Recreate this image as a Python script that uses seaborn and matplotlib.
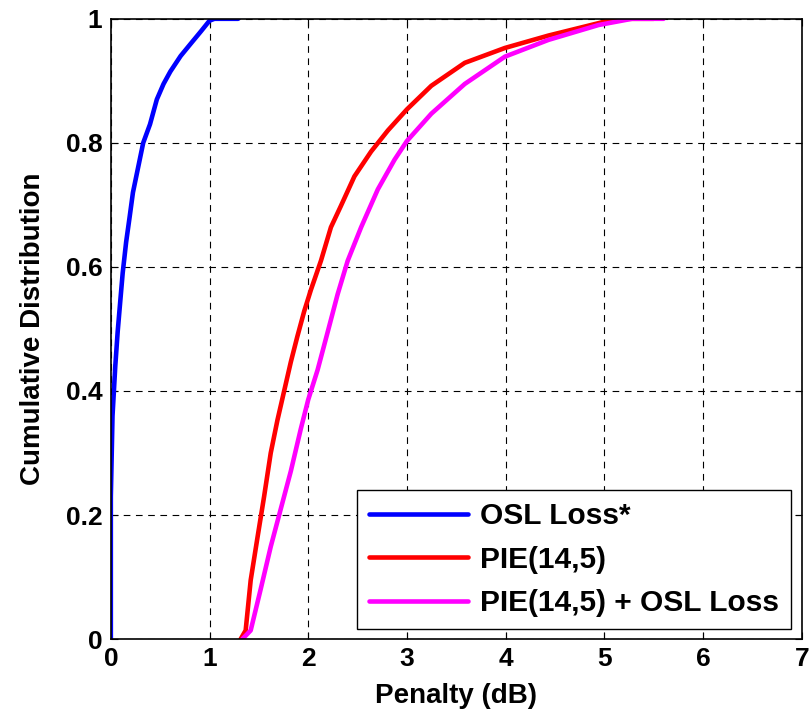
import pandas as pd
import seaborn as sns
import matplotlib.pyplot as plt

# values (x = penalty in dB, y = CDF)
osl_x = [0.0, 0.0, 0.017, 0.045, 0.069, 0.093, 0.12, 0.155, 0.19, 0.224, 0.276, 0.328,
         0.397, 0.466, 0.534, 0.603, 0.707, 0.81, 0.914, 1.0, 1.05, 1.29]
osl_y = [0.0, 0.23, 0.36, 0.44, 0.495, 0.54, 0.59, 0.64, 0.68, 0.72, 0.76, 0.80,
         0.83, 0.87, 0.895, 0.915, 0.94, 0.96, 0.98, 0.997, 1.0, 1.0]

pie_x = [1.315, 1.366, 1.417, 1.485, 1.553, 1.62, 1.688, 1.756, 1.824, 1.89, 1.96, 2.027,
         2.129, 2.23, 2.33, 2.468, 2.637, 2.807, 3.0, 3.247, 3.586, 3.993, 4.434, 4.942,
         5.11, 5.5]
pie_y = [0.0, 0.014, 0.095, 0.163, 0.23, 0.30, 0.353, 0.40, 0.447, 0.488, 0.529, 0.563,
         0.61, 0.664, 0.698, 0.746, 0.786, 0.82, 0.854, 0.892, 0.929, 0.953, 0.973, 0.993,
         1.0, 1.0]

both_x = [1.332, 1.417, 1.519, 1.62, 1.722, 1.824, 1.925, 2.0, 2.095, 2.197, 2.298, 2.4,
          2.536, 2.705, 2.875, 3.0, 3.247, 3.586, 3.993, 4.434, 4.942, 5.28, 5.6]
both_y = [0.0, 0.014, 0.081, 0.149, 0.21, 0.271, 0.339, 0.386, 0.434, 0.495, 0.556, 0.61,
          0.664, 0.725, 0.773, 0.803, 0.847, 0.895, 0.939, 0.966, 0.99, 1.0, 1.0]

labels = ["OSL Loss*", "PIE(14,5)", "PIE(14,5) + OSL Loss"]
colors = ["#0000ff", "#ff0000", "#ff00ff"]

df = pd.concat([
    pd.DataFrame({"x": osl_x, "y": osl_y, "curve": labels[0]}),
    pd.DataFrame({"x": pie_x, "y": pie_y, "curve": labels[1]}),
    pd.DataFrame({"x": both_x, "y": both_y, "curve": labels[2]}),
], ignore_index=True)

sns.set_style("ticks")
plt.rcParams["font.family"] = ["Liberation Sans", "DejaVu Sans"]
plt.rcParams["font.weight"] = "bold"
plt.rcParams["text.color"] = "black"
plt.rcParams["xtick.color"] = "black"
plt.rcParams["ytick.color"] = "black"
plt.rcParams["axes.labelcolor"] = "black"

fig = plt.figure(figsize=(8.09, 7.23), dpi=100)
ax = fig.add_axes([0.137, 0.116, 0.854, 0.858])

sns.lineplot(data=df, x="x", y="y", hue="curve", palette=dict(zip(labels, colors)),
             estimator=None, sort=False, linewidth=3.3, ax=ax)

ax.set_xlim(0, 7)
ax.set_ylim(0, 1)
ax.set_xticks(range(0, 8))
ax.set_yticks([0, 0.2, 0.4, 0.6, 0.8, 1])
ax.set_yticklabels(["0", "0.2", "0.4", "0.6", "0.8", "1"])
ax.grid(True, color="black", linestyle=(0, (6, 5)), linewidth=0.8)
ax.tick_params(direction="in", top=True, right=True, labelsize=19, length=5, width=0.8, pad=6)
for s in ax.spines.values():
    s.set_linewidth(1.2)
    s.set_color("black")
ax.set_xlabel("Penalty (dB)", fontsize=20, fontweight="bold", labelpad=8)
ax.set_ylabel("Cumulative Distribution", fontsize=20, fontweight="bold", labelpad=14)

leg = ax.legend(loc="lower right", fontsize=21.5, frameon=True, fancybox=False,
                framealpha=1, edgecolor="black", handlelength=3.3, handletextpad=0.42,
                labelspacing=0.52, borderpad=0.4,
                bbox_to_anchor=(0.985, 0.016), borderaxespad=0)
leg.get_frame().set_linewidth(1.0)
for line in leg.get_lines():
    line.set_linewidth(3.3)

plt.savefig("out.png", dpi=100)
plt.close()
